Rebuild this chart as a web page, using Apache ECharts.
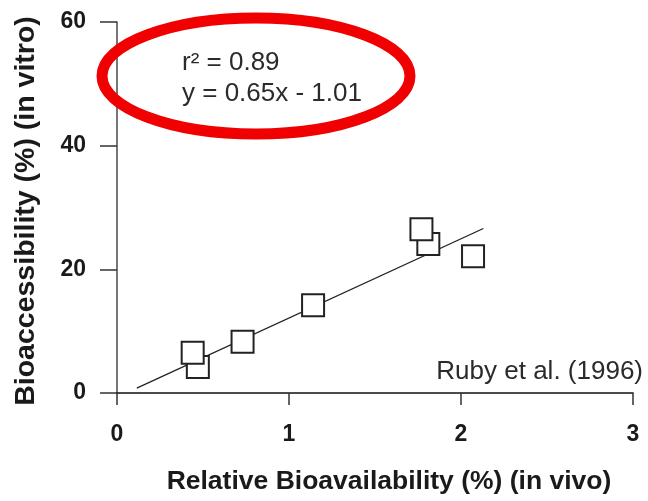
<!DOCTYPE html>
<html>
<head>
<meta charset="utf-8">
<script src="https://cdn.jsdelivr.net/npm/echarts@6/dist/echarts.min.js"></script>
<style>
html,body{margin:0;padding:0;background:#fff;}
#c{width:648px;height:501px;}
</style>
</head>
<body>
<div id="c"></div>
<script>
// Data
const xTicks = [0, 1, 2, 3];
const yTicks = [0, 20, 40, 60];
const pointX = [0.47, 0.44, 0.73, 1.14, 1.81, 1.77, 2.07];
const pointY = [4.2, 6.5, 8.3, 14.2, 24.1, 26.5, 22.1];
const fitX = [0.115, 2.13];
const fitY = [0.8, 26.6];
const xTitle = 'Relative Bioavailability (%) (in vivo)';
const yTitle = 'Bioaccessibility (%) (in vitro)';
const statLines = ['r\u00B2 = 0.89', 'y = 0.65x - 1.01'];
const sourceNote = 'Ruby et al. (1996)';

const FONT = '"Liberation Sans", Arial, sans-serif';
const chart = echarts.init(document.getElementById('c'), null, {renderer: 'canvas'});

const points = pointX.map((x, i) => [x, pointY[i]]);
const fit = fitX.map((x, i) => [x, fitY[i]]);

chart.setOption({
  animation: false,
  backgroundColor: '#fff',
  grid: {left: 117, right: 15, top: 22, bottom: 108, containLabel: false},
  xAxis: {
    type: 'value', min: xTicks[0], max: xTicks[xTicks.length - 1], interval: 1,
    name: xTitle, nameLocation: 'middle', nameGap: 75,
    nameTextStyle: {fontFamily: FONT, fontWeight: 'bold', fontSize: 26.5, color: '#1a1a1a', padding: [0, 0, 0, 28]},
    axisLine: {show: true, onZero: false, lineStyle: {color: '#111', width: 1.6}},
    axisTick: {show: true, length: 12, lineStyle: {color: '#333', width: 1.5}},
    axisLabel: {margin: 30, fontFamily: FONT, fontWeight: 'bold', fontSize: 23, color: '#1a1a1a'},
    splitLine: {show: false}
  },
  yAxis: {
    type: 'value', min: yTicks[0], max: yTicks[yTicks.length - 1], interval: 20,
    name: yTitle, nameLocation: 'middle', nameGap: 76, nameRotate: 90,
    nameTextStyle: {fontFamily: FONT, fontWeight: 'bold', fontSize: 28.5, color: '#1a1a1a', padding: [0, 7, 0, 0]},
    axisLine: {show: true, onZero: false, lineStyle: {color: '#555', width: 1.6}},
    axisTick: {show: true, length: 17, lineStyle: {color: '#333', width: 1.5}},
    axisLabel: {margin: 31, fontFamily: FONT, fontWeight: 'bold', fontSize: 23, color: '#1a1a1a'},
    splitLine: {show: false}
  },
  series: [
    {
      type: 'line', data: fit, symbol: 'none', z: 2,
      lineStyle: {color: '#222', width: 1.3}
    },
    {
      type: 'scatter', data: points, symbol: 'rect', symbolSize: 22, z: 3,
      itemStyle: {color: '#fff', borderColor: '#222', borderWidth: 2, opacity: 1}
    }
  ],
  graphic: [
    {type: 'text', x: 182, y: 63, z: 10,
     style: {text: statLines[0], fontFamily: FONT, fontSize: 26, fill: '#2b2b2b', align: 'left', verticalAlign: 'middle'}},
    {type: 'text', x: 182, y: 94, z: 10,
     style: {text: statLines[1], fontFamily: FONT, fontSize: 26, fill: '#2b2b2b', align: 'left', verticalAlign: 'middle'}},
    {type: 'text', x: 643, y: 372, z: 10,
     style: {text: sourceNote, fontFamily: FONT, fontSize: 26, fill: '#2b2b2b', align: 'right', verticalAlign: 'middle'}},
    {type: 'ellipse', z: 20,
     shape: {cx: 256, cy: 76, rx: 154, ry: 58},
     style: {fill: 'none', stroke: '#f00000', lineWidth: 11}}
  ]
});
</script>
</body>
</html>
